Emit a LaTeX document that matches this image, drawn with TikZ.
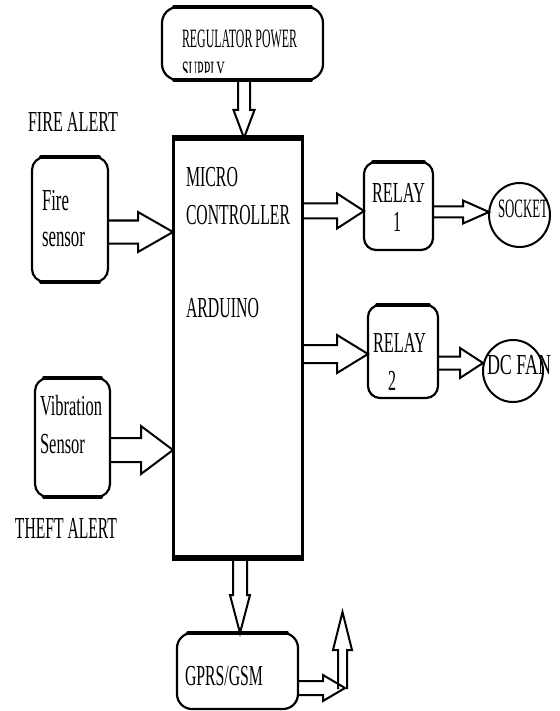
\documentclass[tikz,border=0pt]{standalone}
\usepackage{fontspec}
\setmainfont{Liberation Serif}
\usetikzlibrary{shapes.geometric,calc}
\newcommand\tw[2]{\resizebox{#1pt}{\height}{#2}}
% horizontal block arrow: from, to, y, stem half, head half, head length
\newcommand\harr[6]{%
  \draw[barr] let \p1=#1, \p2=#2, \p3=(0,#3) in
    (\x1,\y3+#4pt) -- (\x2-#6pt,\y3+#4pt) -- (\x2-#6pt,\y3+#5pt) -- (\x2,\y3)
    -- (\x2-#6pt,\y3-#5pt) -- (\x2-#6pt,\y3-#4pt) -- (\x1,\y3-#4pt);}
% vertical block arrow: from, to, x, stem half, head half, head length (signed)
\newcommand\varr[6]{%
  \draw[barr] let \p1=#1, \p2=#2, \p3=(#3,0) in
    (\x3-#4pt,\y1) -- (\x3-#4pt,\y2+#6pt) -- (\x3-#5pt,\y2+#6pt) -- (\x3,\y2)
    -- (\x3+#5pt,\y2+#6pt) -- (\x3+#4pt,\y2+#6pt) -- (\x3+#4pt,\y1);}
\tikzset{
  rbox/.style={draw, line width=2.2pt, rounded corners=13pt, outer sep=0pt, inner sep=0pt},
  mcbox/.style={draw, line width=3pt, outer sep=0pt, inner sep=0pt},
  oval/.style={ellipse, draw, line width=2pt, outer sep=0pt, inner sep=0pt},
  barr/.style={draw, line width=2pt, line join=miter},
  lbl/.style={anchor=base west, inner sep=0pt, outer sep=0pt},
  hedge/.style={line width=3.8pt, line cap=round},
  fa/.style={font=\fontsize{26.5}{28}\selectfont},
  fb/.style={font=\fontsize{29}{30}\selectfont},
  fc/.style={font=\fontsize{30.5}{32}\selectfont},
}
\begin{document}
\begin{tikzpicture}[x=1pt,y=-1pt]
\useasboundingbox (0,0) rectangle (559,711);
% boxes
\node[rbox, rounded corners=16pt, minimum width=161pt, minimum height=73pt] (reg) at (242.5,43.5) {};
\node[rbox, minimum width=76pt, minimum height=125pt] (fire) at (70,219.5) {};
\node[rbox, minimum width=75pt, minimum height=119pt] (vib) at (72.5,437.5) {};
\node[mcbox, minimum width=129pt, minimum height=420pt] (mc) at (237.5,348) {};
\node[rbox, rounded corners=12pt, minimum width=69pt, minimum height=88pt] (relay1) at (398.5,206) {};
\node[rbox, rounded corners=12pt, minimum width=70pt, minimum height=93pt] (relay2) at (403,351.5) {};
\node[oval, minimum width=61pt, minimum height=64pt] (socket) at (519.5,215) {};
\node[oval, minimum width=60pt, minimum height=62pt] (fan) at (513,371) {};
\node[rbox, rounded corners=15pt, minimum width=121pt, minimum height=76pt] (gprs) at (237.5,671) {};
\coordinate (gcorner) at (345,689);
\coordinate (gtop) at (342.5,612);
% thicker horizontal edges
\draw[hedge] ([xshift=12pt]reg.north west) -- ([xshift=-12pt]reg.north east);
\draw[hedge] ([xshift=12pt]reg.south west) -- ([xshift=-12pt]reg.south east);
\draw[hedge] ([xshift=9pt]fire.north west) -- ([xshift=-9pt]fire.north east);
\draw[hedge] ([xshift=9pt]fire.south west) -- ([xshift=-9pt]fire.south east);
\draw[hedge] ([xshift=9pt]vib.north west) -- ([xshift=-9pt]vib.north east);
\draw[hedge] ([xshift=9pt]vib.south west) -- ([xshift=-9pt]vib.south east);
\draw[hedge] ([xshift=9pt]relay1.north west) -- ([xshift=-9pt]relay1.north east);
\draw[hedge] ([xshift=9pt]relay2.north west) -- ([xshift=-9pt]relay2.north east);
\draw[hedge] ([xshift=11pt]gprs.north west) -- ([xshift=-11pt]gprs.north east);
\draw[line width=5.5pt] ([xshift=-1.5pt]mc.north west) -- ([xshift=1.5pt]mc.north east);
\draw[line width=5.5pt] ([xshift=-1.5pt]mc.south west) -- ([xshift=1.5pt]mc.south east);
% block arrows
\varr{(reg.south)}{(mc.north)}{244}{6}{10.5}{28}
\harr{(fire.east)}{(mc.west)}{232}{11.5}{20}{35}
\harr{(vib.east)}{(mc.west)}{450}{12}{24}{32}
\harr{(mc.east)}{(relay1.west)}{211}{7.5}{17.5}{27}
\harr{(relay1.east)}{(socket.west)}{212}{5.5}{11.5}{26}
\harr{(mc.east)}{(relay2.west)}{354}{9}{19}{31}
\harr{(relay2.east)}{(fan.west)}{363}{6.5}{15}{23}
\varr{(mc.south)}{(gprs.north)}{240}{7}{10}{38}
\harr{(gprs.east)}{(gcorner)}{688}{7}{13}{22}
\varr{(gcorner)}{(gtop)}{342.5}{4.5}{9.5}{-38}
% texts
\node[lbl, fa] (treg1) at (182,48) {\tw{115}{REGULATOR POWER}};
\begin{scope}
  \clip (160,0) rectangle (330,73);
  \node[lbl, fa] (treg2) at (182,80) {\tw{43}{SUPPLY}};
\end{scope}
\node[lbl, fb] (tfirealert) at (28,132) {\tw{90}{FIRE ALERT}};
\node[lbl, fc] (tfire1) at (42,210) {\tw{27}{Fire}};
\node[lbl, fc] (tfire2) at (42,247) {\tw{43}{sensor}};
\node[lbl, fb] (tvib1) at (40,415) {\tw{62}{Vibration}};
\node[lbl, fb] (tvib2) at (40,453) {\tw{45}{Sensor}};
\node[lbl, fc] (ttheft) at (15,538) {\tw{102}{THEFT ALERT}};
\node[lbl, fb] (tmc1) at (186,187) {\tw{52}{MICRO}};
\node[lbl, fb] (tmc2) at (186,225) {\tw{104}{CONTROLLER}};
\node[lbl, fb] (tmc3) at (186,317) {\tw{73}{ARDUINO}};
\node[lbl, fb] (tr1a) at (372,203) {\tw{53}{RELAY}};
\node[lbl, fb] (tr1b) at (393,232) {\tw{8}{1}};
\node[lbl, fb] (tr2a) at (373,352) {\tw{53}{RELAY}};
\node[lbl, fb] (tr2b) at (388,390) {\tw{8}{2}};
\node[lbl, fa] (tsock) at (498,218) {\tw{50}{SOCKET}};
\node[lbl, fb] (tfan) at (487,374) {\tw{64}{DC FAN}};
\node[lbl, fb] (tgprs) at (185,685) {\tw{78}{GPRS/GSM}};
\end{tikzpicture}
\end{document}
